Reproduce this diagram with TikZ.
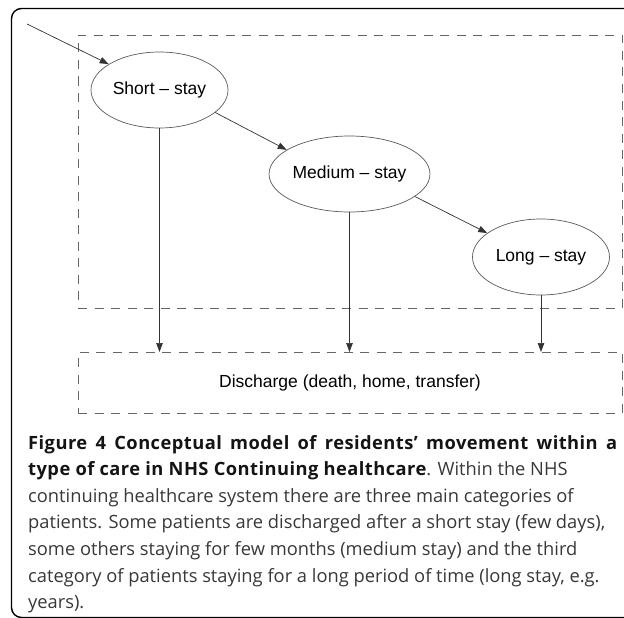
\documentclass[tikz,border=0pt]{standalone}
\usepackage{fontspec}
\setmainfont{Liberation Sans}
\newfontfamily\capfont{Open Sans}
\newfontfamily\capbf[LetterSpace=2.5]{Open Sans}
\usetikzlibrary{arrows.meta,shapes.geometric}
\begin{document}
\begin{tikzpicture}[x=1pt,y=-1pt,
  stay/.style={ellipse,draw=black!65,line width=0.7pt,minimum width=137pt,minimum height=76pt,inner sep=0pt,font=\fontsize{17.5}{20}\selectfont},
  dbox/.style={draw=black!60,line width=0.9pt,dash pattern=on 9pt off 7.5pt,inner sep=0pt,outer sep=0pt},
  flow/.style={draw=black!80,line width=0.7pt,-{Triangle[length=9pt,width=6.5pt]}},
  capline/.style={anchor=base west,inner sep=0pt,font=\capfont\fontsize{18.3}{26}\selectfont,text=black!78}
]
\useasboundingbox (0,0) rectangle (624,618);
\draw[line width=1.4pt,rounded corners=10pt] (660,617.5) -- (11.5,617.5) -- (11.5,8.5) -- (660,8.5);

\node[dbox,minimum width=544pt,minimum height=273pt] (care) at (350,171.5) {};
\node[dbox,minimum width=544pt,minimum height=61pt,font=\fontsize{17.5}{20}\selectfont] (dis) at (350,382.5) {Discharge (death, home, transfer)};

\node[stay] (short) at (159.5,90) {Short -- stay};
\node[stay] (medium) at (349.5,174) {Medium -- stay};
\node[stay] (long) at (541,257) {Long -- stay};

\coordinate (entry) at (27,24);
\draw[flow] (entry) -- (short.153);
\draw[flow] (short.-22) -- (medium.159);
\draw[flow] (medium.-19) -- (long.156);
\draw[flow] (short.south) -- (short.south |- dis.north);
\draw[flow] (medium.south) -- (medium.south |- dis.north);
\draw[flow] (long.south) -- (long.south |- dis.north);

\node[capline] (cap1) at (28,449) {\makebox[589pt][s]{\capbf\bfseries\fontsize{18.3}{26}\selectfont\color{black!92}Figure 4 Conceptual model of residents’ movement within a}};
\node[capline] (cap2) at (28,475.6) {{\capbf\bfseries\fontsize{18.3}{26}\selectfont\color{black!92}type of care in NHS Continuing healthcare}. Within the NHS};
\node[capline] (cap3) at (28,502.2) {continuing healthcare system there are three main categories of};
\node[capline] (cap4) at (28,528.8) {patients. Some patients are discharged after a short stay (few days),};
\node[capline] (cap5) at (28,555.4) {some others staying for few months (medium stay) and the third};
\node[capline] (cap6) at (28,582) {category of patients staying for a long period of time (long stay, e.g.};
\node[capline] (cap7) at (28,608.6) {years).};
\end{tikzpicture}
\end{document}
